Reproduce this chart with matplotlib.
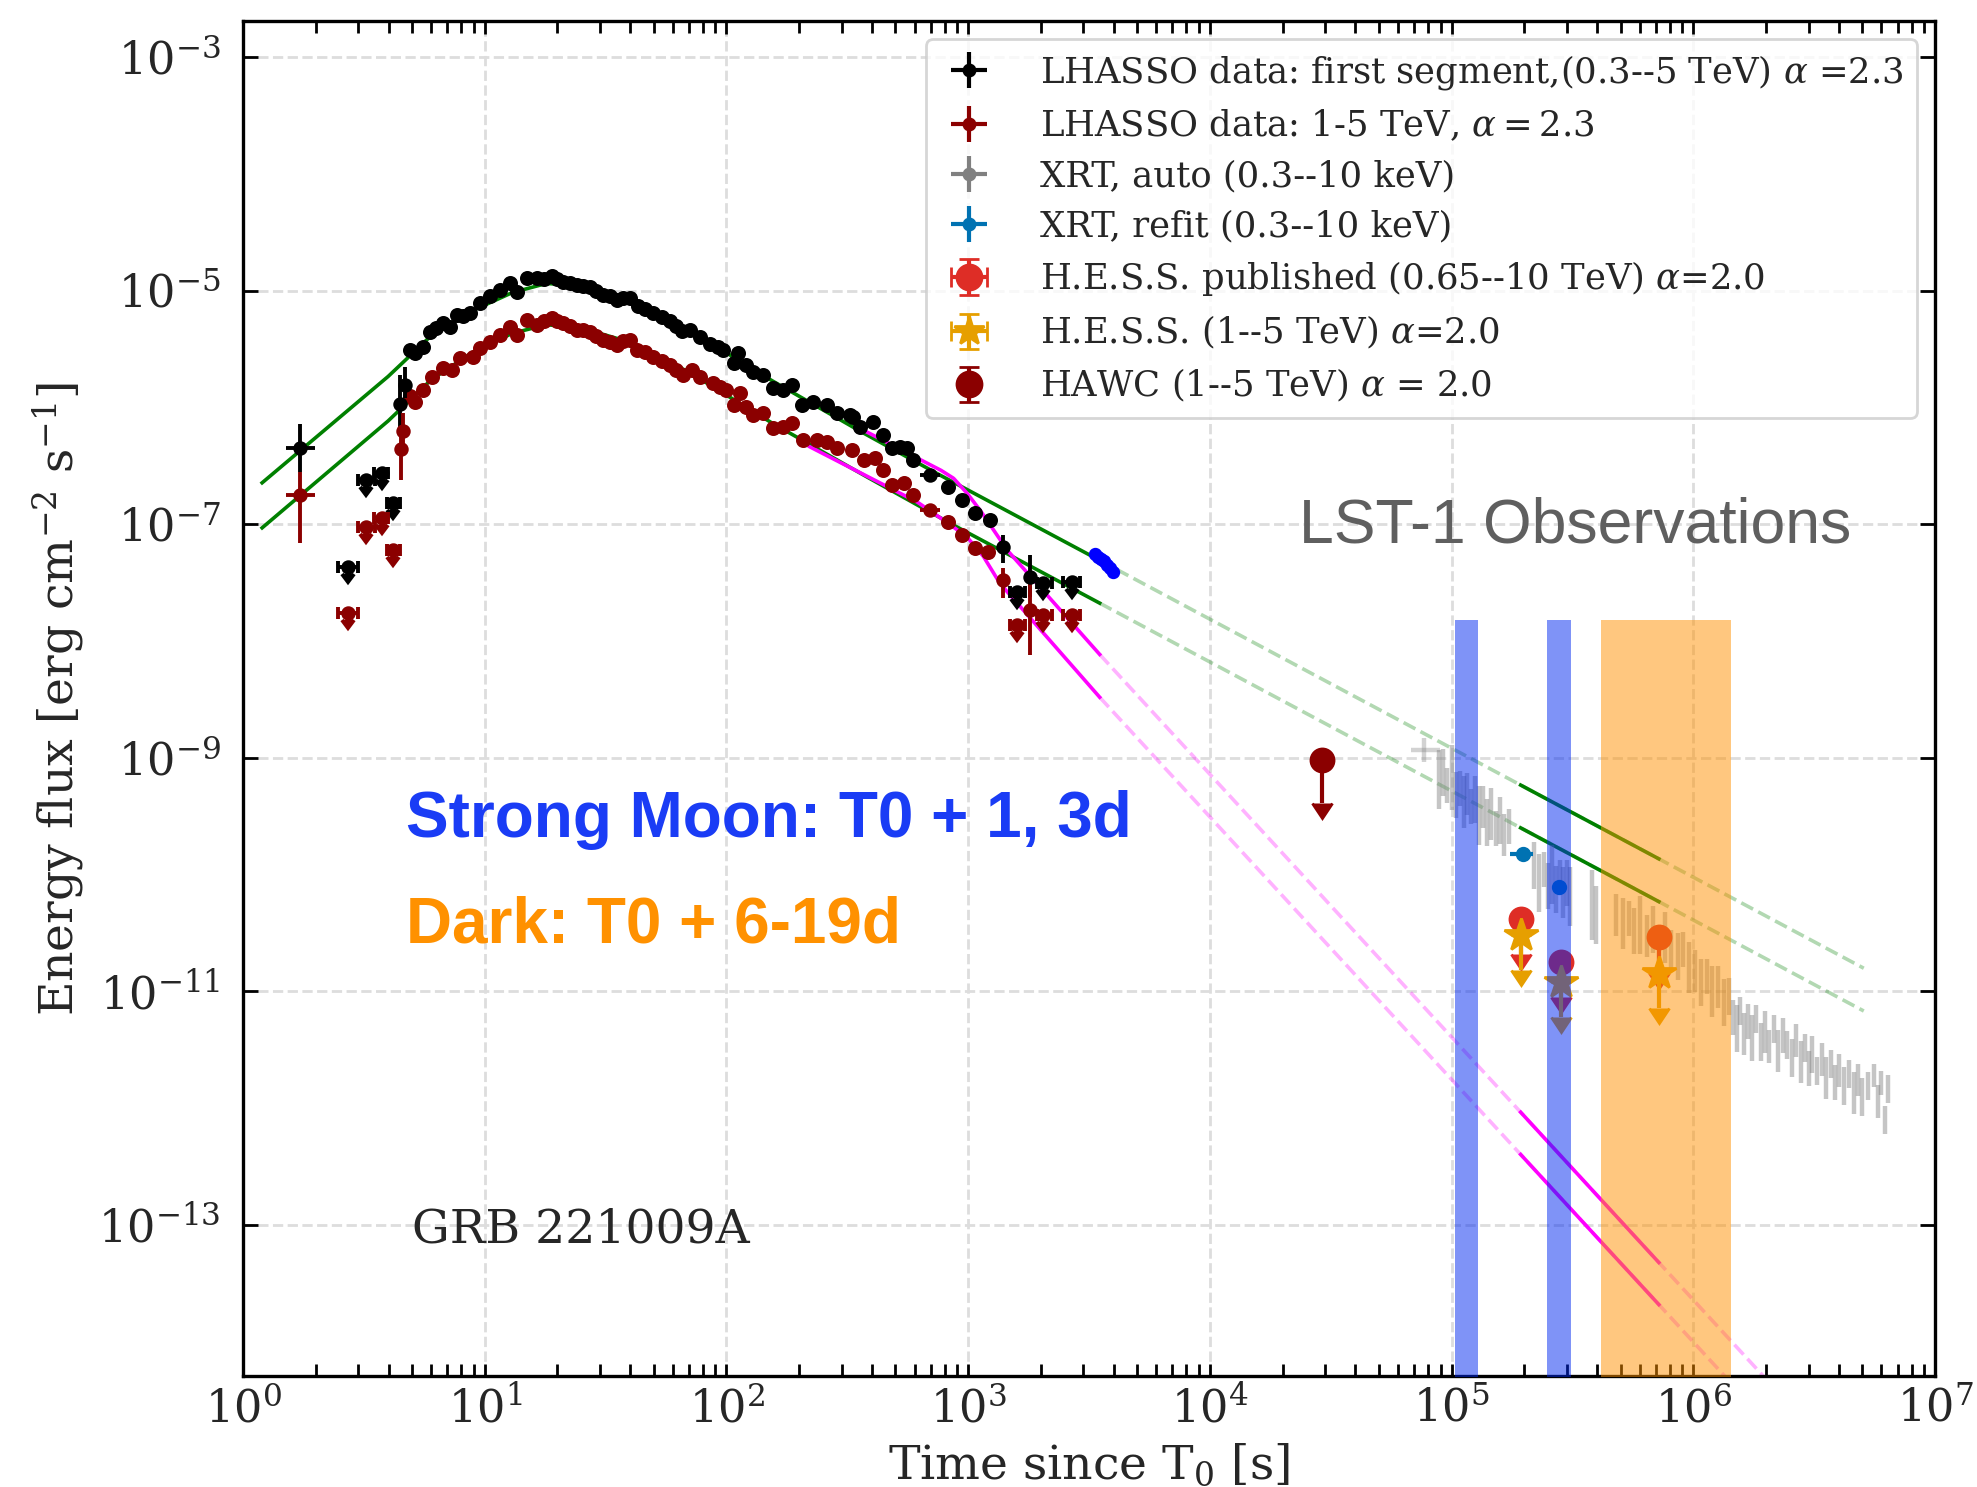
import numpy as np
import matplotlib
matplotlib.use("Agg")
import matplotlib.pyplot as plt
from matplotlib.ticker import LogLocator, FixedLocator, NullLocator, LogFormatterMathtext

plt.rcParams.update({
    "font.family": ["DejaVu Serif"],
    "mathtext.fontset": "dejavuserif",
    "text.color": "#262626",
    "axes.labelcolor": "#262626",
    "xtick.labelcolor": "#262626",
    "ytick.labelcolor": "#262626",
})

# ---------------- LHAASO light curve (dense part, markers only) ----------------
lhaaso_all_t = [4.91, 5.15, 5.57, 5.94, 6.3, 6.74, 7.2, 7.66, 8.1, 8.69, 9.57, 10.5,
                11.6, 12.7, 13.6, 14.9, 16.4, 17.6, 18.9, 20.0, 21.1, 22.5, 24.0, 25.5,
                27.3, 29.0, 31.0, 33.0, 35.2, 37.5, 39.9, 43.0, 46.0, 49.9, 54.0, 58.5,
                62.0, 65.4, 70.7, 77.8, 85.6, 92.0, 97.0, 107, 112, 120, 129, 142, 156,
                172, 186, 205, 229, 260, 286, 324, 335, 357, 404, 445, 483, 523, 557,
                594, 828, 940, 1067, 1230]
lhaaso_all_f = [3.1e-6, 2.9e-6, 3.31e-6, 4.45e-6, 4.8e-6, 5.25e-6, 4.9e-6, 6.2e-6, 6.1e-6,
                6.4e-6, 7.8e-6, 8.9e-6, 1.01e-5, 1.16e-5, 9.8e-6, 1.27e-5, 1.27e-5, 1.25e-5,
                1.32e-5, 1.25e-5, 1.19e-5, 1.15e-5, 1.12e-5, 1.1e-5, 1.08e-5, 1.0e-5, 9.2e-6,
                8.9e-6, 8.3e-6, 8.7e-6, 8.6e-6, 7.4e-6, 7.0e-6, 6.4e-6, 5.9e-6, 5.5e-6,
                5.0e-6, 4.5e-6, 4.6e-6, 4.03e-6, 3.5e-6, 3.3e-6, 3.1e-6, 2.4e-6, 2.9e-6,
                2.3e-6, 2.0e-6, 1.9e-6, 1.45e-6, 1.42e-6, 1.56e-6, 1.05e-6, 1.12e-6, 1.05e-6,
                8.9e-7, 8.6e-7, 8.3e-7, 6.8e-7, 7.55e-7, 5.8e-7, 4.47e-7, 4.6e-7, 4.47e-7,
                3.55e-7, 2.1e-7, 1.61e-7, 1.24e-7, 1.09e-7]

lhaaso_hi_t = [4.91, 5.15, 5.57, 6.03, 6.74, 7.3, 7.9, 8.97, 9.57, 10.5, 11.6, 12.7,
               13.6, 14.9, 16.4, 17.6, 18.9, 20.0, 21.1, 22.5, 24.0, 25.5, 27.3, 29.0,
               31.0, 33.0, 35.2, 37.5, 39.9, 42.6, 46.0, 49.9, 54.0, 58.5, 62.0, 66.4,
               71.8, 77.8, 88.3, 94.0, 100, 107, 114, 121, 129, 142, 156, 172, 186, 208,
               237, 260, 286, 330, 369, 412, 445, 483, 541, 594, 828, 940, 1067, 1213]
lhaaso_hi_f = [1.24e-6, 1.12e-6, 1.41e-6, 1.83e-6, 2.16e-6, 2.09e-6, 2.63e-6, 2.72e-6,
               3.2e-6, 3.65e-6, 4.17e-6, 4.9e-6, 4.17e-6, 5.6e-6, 5.07e-6, 5.5e-6, 5.8e-6,
               5.5e-6, 5.25e-6, 5.0e-6, 4.6e-6, 4.6e-6, 4.45e-6, 4.1e-6, 3.78e-6, 3.6e-6,
               3.42e-6, 3.7e-6, 3.78e-6, 3.1e-6, 3.0e-6, 2.72e-6, 2.5e-6, 2.3e-6, 2.1e-6,
               1.89e-6, 2.09e-6, 1.83e-6, 1.61e-6, 1.5e-6, 1.41e-6, 1.05e-6, 1.32e-6,
               1.0e-6, 8.6e-7, 8.9e-7, 6.6e-7, 6.8e-7, 7.3e-7, 5.26e-7, 5.26e-7, 5.1e-7,
               4.47e-7, 4.3e-7, 3.55e-7, 3.66e-7, 2.91e-7, 2.17e-7, 2.24e-7, 1.78e-7,
               1.05e-7, 8.1e-8, 6.2e-8, 5.8e-8]

# LHAASO bins with visible error bars
lhaaso_all_bin_t = [1.72, 4.46, 4.68, 696, 1399, 1803]
lhaaso_all_bin_f = [4.52e-7, 1.07e-6, 1.55e-6, 2.64e-7, 6.4e-8, 3.55e-8]
lhaaso_all_bin_flo = [2.82e-7, 6.5e-7, 1.2e-6, 2.4e-7, 4.66e-8, 2.4e-8]
lhaaso_all_bin_fhi = [7.2e-7, 1.9e-6, 2.2e-6, 2.9e-7, 8.1e-8, 5.45e-8]
lhaaso_all_bin_tlo = [1.51, 4.40, 4.62, 632, 1399, 1803]
lhaaso_all_bin_thi = [1.99, 4.52, 4.74, 765, 1399, 1803]

lhaaso_hi_bin_t = [1.72, 4.49, 4.61, 696, 1399, 1803]
lhaaso_hi_bin_f = [1.78e-7, 4.4e-7, 6.3e-7, 1.32e-7, 3.33e-8, 1.84e-8]
lhaaso_hi_bin_flo = [6.9e-8, 2.4e-7, 4.5e-7, 1.2e-7, 2.32e-8, 7.6e-9]
lhaaso_hi_bin_fhi = [2.82e-7, 6.4e-7, 9.0e-7, 1.45e-7, 4.19e-8, 3.33e-8]
lhaaso_hi_bin_tlo = [1.51, 4.43, 4.55, 632, 1399, 1803]
lhaaso_hi_bin_thi = [1.99, 4.55, 4.67, 765, 1399, 1803]

# LHAASO upper limits
ul_t = [2.73, 3.23, 3.75, 4.19, 1589, 2047, 2681]
ul_tlo = [2.48, 2.98, 3.48, 3.94, 1490, 1922, 2477]
ul_thi = [3.00, 3.52, 3.99, 4.46, 1718, 2218, 2904]
ul_all_f = [4.33e-8, 2.39e-7, 2.76e-7, 1.51e-7, 2.64e-8, 3.12e-8, 3.22e-8]
ul_hi_f = [1.73e-8, 9.5e-8, 1.12e-7, 6.0e-8, 1.37e-8, 1.67e-8, 1.67e-8]

# ---------------- Swift-XRT ----------------
xrt_early_t = [3350, 3450, 3550, 3650, 3750, 3870, 3990]
xrt_early_f = [5.6e-8, 5.2e-8, 5.0e-8, 4.8e-8, 4.5e-8, 4.2e-8, 3.9e-8]

xrt_auto_t = [7.65e4,
              8.9e4, 9.2e4, 9.6e4, 1.0e5, 1.04e5, 1.08e5, 1.12e5, 1.16e5, 1.2e5, 1.25e5,
              1.3e5, 1.35e5, 1.4e5, 1.46e5, 1.52e5, 1.58e5, 1.65e5, 1.72e5,
              2.2e5, 2.3e5, 2.4e5, 2.5e5, 2.6e5, 2.7e5, 2.8e5, 2.9e5, 3.0e5, 3.1e5,
              3.8e5, 3.95e5,
              4.8e5, 5.1e5, 5.4e5, 5.7e5, 6.0e5, 6.4e5, 6.8e5, 7.2e5, 7.6e5, 8.1e5,
              8.6e5, 9.1e5, 9.6e5, 1.02e6, 1.08e6, 1.14e6, 1.2e6, 1.27e6, 1.34e6, 1.41e6,
              1.46e6, 1.51e6, 1.56e6, 1.62e6, 1.68e6, 1.75e6, 1.82e6, 1.9e6, 1.98e6,
              2.06e6, 2.15e6, 2.25e6, 2.35e6, 2.45e6, 2.55e6, 2.66e6, 2.78e6, 2.9e6,
              3.0e6, 3.1e6, 3.25e6, 3.4e6, 3.55e6, 3.7e6, 3.85e6, 4.0e6, 4.2e6, 4.4e6,
              4.6e6, 4.8e6, 5.0e6, 5.3e6, 5.6e6, 5.8e6, 6.0e6, 6.2e6, 6.4e6]
xrt_auto_f = [1.17e-9,
              6.5e-10, 7.5e-10, 5.8e-10, 6.8e-10, 4.8e-10, 5.5e-10, 4.2e-10, 4.9e-10,
              3.8e-10, 4.4e-10, 3.2e-10, 3.8e-10, 2.8e-10, 3.3e-10, 2.5e-10, 2.9e-10,
              2.2e-10, 2.6e-10,
              1.2e-10, 8.5e-11, 1.1e-10, 8.0e-11, 1.0e-10, 7.5e-11, 9.5e-11, 7.0e-11,
              8.5e-11, 6.5e-11,
              5.5e-11, 4.5e-11,
              4.5e-11, 3.8e-11, 4.2e-11, 3.3e-11, 3.7e-11, 3.0e-11, 3.4e-11, 2.6e-11,
              2.9e-11, 2.2e-11, 2.0e-11, 2.3e-11, 1.6e-11, 1.5e-11, 1.2e-11, 1.35e-11,
              1.0e-11, 1.1e-11, 8.0e-12, 9.0e-12,
              6.0e-12, 4.8e-12, 6.8e-12, 4.3e-12, 5.5e-12, 4.0e-12, 5.8e-12, 3.7e-12,
              4.5e-12, 3.4e-12, 4.8e-12, 3.1e-12, 4.2e-12, 3.5e-12, 2.7e-12, 3.8e-12,
              2.5e-12, 3.3e-12, 2.2e-12, 2.9e-12, 2.1e-12, 2.6e-12, 1.8e-12, 2.4e-12,
              1.65e-12, 2.1e-12, 1.55e-12, 1.95e-12, 1.35e-12, 1.75e-12, 1.25e-12,
              1.55e-12, 1.9e-12, 1.15e-12, 1.65e-12, 8.0e-13, 1.45e-12]
xrt_auto_dex = [0.10,
                0.25, 0.20, 0.15, 0.28, 0.20, 0.15, 0.22, 0.18, 0.15, 0.20, 0.25, 0.18,
                0.20, 0.22, 0.15, 0.20, 0.18, 0.15,
                0.20, 0.25, 0.15, 0.20, 0.25, 0.20, 0.15, 0.22, 0.20, 0.25,
                0.30, 0.25,
                0.18, 0.22, 0.15, 0.20, 0.25, 0.18, 0.20, 0.15, 0.22, 0.18, 0.20, 0.15,
                0.22, 0.18, 0.20, 0.15, 0.22, 0.18, 0.20, 0.16,
                0.15, 0.20, 0.12, 0.18, 0.15, 0.20, 0.12, 0.16, 0.18, 0.14, 0.12, 0.18,
                0.15, 0.12, 0.16, 0.14, 0.18, 0.12, 0.15, 0.16, 0.12, 0.14, 0.18, 0.12,
                0.15, 0.14, 0.16, 0.12, 0.18, 0.14, 0.16, 0.12, 0.10, 0.14, 0.10, 0.12,
                0.12]
xrt_auto_first_tlo, xrt_auto_first_thi = 6.8e4, 8.96e4

xrt_refit_t = [1.97e5, 2.79e5]
xrt_refit_f = [1.5e-10, 7.9e-11]
xrt_refit_tlo = [1.75e5, 2.72e5]
xrt_refit_thi = [2.17e5, 2.86e5]

# ---------------- IACT / HAWC upper limits ----------------
hess_pub_t = [1.93e5, 2.83e5, 7.18e5]
hess_pub_f = [4.2e-11, 1.8e-11, 2.9e-11]
hess_15_t = [1.93e5, 2.83e5, 7.18e5]
hess_15_f = [3.04e-11, 1.21e-11, 1.43e-11]
hawc_t = [2.9e4]
hawc_f = [9.57e-10]

# ---------------- afterglow models (knots of log-log curves) ----------------
pl_all_t = [1.2, 4.0, 6.0, 9.0, 13, 18, 25, 40, 70, 150, 350, 700, 5.07e6]
pl_all_f = [2.26e-7, 1.85e-6, 4.1e-6, 6.8e-6, 9.6e-6, 1.15e-5, 1.1e-5, 8.0e-6, 4.6e-6,
            1.75e-6, 6.4e-7, 2.9e-7, 1.58e-11]
pl_hi_t = [1.2, 4.0, 6.0, 9.0, 13, 18, 25, 40, 70, 150, 350, 840, 5.07e6]
pl_hi_f = [9.3e-8, 7.7e-7, 1.72e-6, 3.0e-6, 4.3e-6, 5.1e-6, 4.8e-6, 3.6e-6, 2.0e-6,
           7.6e-7, 2.8e-7, 1.02e-7, 6.8e-12]
jet_all_t = [362, 770, 870, 990, 1120, 1450, 3515, 2.0e6]
jet_all_f = [6.5e-7, 2.9e-7, 2.47e-7, 1.84e-7, 1.32e-7, 6.0e-8, 7.6e-9, 4.8e-15]
jet_hi_t = [221, 612, 789, 987, 1156, 1355, 3500, 2.0e6]
jet_hi_f = [4.6e-7, 1.56e-7, 1.09e-7, 7.8e-8, 5.3e-8, 3.1e-8, 3.3e-9, 2.1e-15]

fit_end = 3500
lst_window = (1.93e5, 7.2e5)

# LST-1 observation windows
moon_windows = [(1.03e5, 1.29e5), (2.49e5, 3.13e5)]
dark_window = (4.14e5, 1.43e6)
window_top = 1.5e-8


def loglog(tk, fk, t):
    return 10 ** np.interp(np.log10(t), np.log10(tk), np.log10(fk))


fig = plt.figure(figsize=(1977 / 200, 1487 / 200), dpi=200)
ax = fig.add_axes([0.1229, 0.0746, 0.8559, 0.9113])
ax.set_xscale("log")
ax.set_yscale("log")

# model curves
for tk, fk, tstart, tend in [(pl_all_t, pl_all_f, 1.2, 5.07e6), (pl_hi_t, pl_hi_f, 1.2, 5.07e6),
                             (jet_all_t, jet_all_f, 362, 2.0e6), (jet_hi_t, jet_hi_f, 221, 2.0e6)]:
    col = "green" if tk[0] < 10 else "magenta"
    t1 = np.geomspace(tstart, fit_end, 300)
    t2 = np.geomspace(fit_end, tend, 300)
    t3 = np.geomspace(*lst_window, 100)
    ax.plot(t1, loglog(tk, fk, t1), color=col, lw=1.3, zorder=2)
    ax.plot(t2, loglog(tk, fk, t2), color=col, lw=1.3, ls="--", alpha=0.3, zorder=2)
    ax.plot(t3, loglog(tk, fk, t3), color=col, lw=1.3, zorder=2)

# XRT
xf = np.array(xrt_auto_f)
xd = np.array(xrt_auto_dex)
ax.errorbar(xrt_auto_t[1:], xf[1:], yerr=[xf[1:] * (1 - 10 ** -xd[1:]), xf[1:] * (10 ** xd[1:] - 1)],
            fmt="none", ecolor="gray", elinewidth=1.6, alpha=0.45, zorder=2.5)
ax.errorbar(xrt_auto_t[:1], xf[:1],
            xerr=[[xrt_auto_t[0] - xrt_auto_first_tlo], [xrt_auto_first_thi - xrt_auto_t[0]]],
            yerr=[xf[:1] * (1 - 10 ** -xd[:1]), xf[:1] * (10 ** xd[:1] - 1)],
            fmt="none", ecolor="gray", elinewidth=1.6, alpha=0.35, zorder=2.5)
ax.plot(xrt_early_t, xrt_early_f, "o", color="blue", ms=3.8, zorder=3)
rt = np.array(xrt_refit_t)
ax.errorbar(rt, xrt_refit_f, xerr=[rt - np.array(xrt_refit_tlo), np.array(xrt_refit_thi) - rt],
            yerr=np.array(xrt_refit_f) * 0.08, fmt="o", color="#0072B2", ms=4.5,
            elinewidth=1.5, zorder=3)

# LHAASO
for t, f, col in [(lhaaso_all_t, lhaaso_all_f, "black"), (lhaaso_hi_t, lhaaso_hi_f, "darkred")]:
    ax.plot(t, f, "o", color=col, ms=4.4, zorder=3)
for t, f, flo, fhi, tlo, thi, col in [
        (lhaaso_all_bin_t, lhaaso_all_bin_f, lhaaso_all_bin_flo, lhaaso_all_bin_fhi,
         lhaaso_all_bin_tlo, lhaaso_all_bin_thi, "black"),
        (lhaaso_hi_bin_t, lhaaso_hi_bin_f, lhaaso_hi_bin_flo, lhaaso_hi_bin_fhi,
         lhaaso_hi_bin_tlo, lhaaso_hi_bin_thi, "darkred")]:
    t, f = np.array(t), np.array(f)
    ax.errorbar(t, f, xerr=[t - np.array(tlo), np.array(thi) - t],
                yerr=[f - np.array(flo), np.array(fhi) - f],
                fmt="o", color=col, ms=4.2, elinewidth=1.4, zorder=3)
ut = np.array(ul_t)
for f, col in [(ul_all_f, "black"), (ul_hi_f, "darkred")]:
    f = np.array(f)
    ax.errorbar(ut, f, xerr=[ut - np.array(ul_tlo), np.array(ul_thi) - ut], yerr=0.13 * f,
                uplims=True, fmt="o", color=col, ms=4.2, elinewidth=1.4, capsize=2.0,
                capthick=1.4, zorder=3)

# HESS and HAWC upper limits
ax.errorbar(hess_pub_t, hess_pub_f, yerr=0.5 * np.array(hess_pub_f), uplims=True, fmt="o",
            color="#de2d26", ms=8.3, elinewidth=1.5, capsize=3.5, zorder=3)
ax.errorbar(hess_15_t, hess_15_f, yerr=0.5 * np.array(hess_15_f), uplims=True, fmt="*",
            color="#E69F00", ms=12.5, elinewidth=1.5, capsize=3.5, zorder=3.2)
ax.errorbar(hawc_t, hawc_f, yerr=0.57 * np.array(hawc_f), uplims=True, fmt="o",
            color="darkred", ms=8.3, elinewidth=1.5, capsize=3.5, zorder=3)

# observation windows
for lo, hi in moon_windows:
    ax.fill_between([lo, hi], 1e-20, window_top, color="#0028F0", alpha=0.5, lw=0, zorder=4)
ax.fill_between(list(dark_window), 1e-20, window_top, color="#FF9100", alpha=0.5, lw=0, zorder=4)

# annotations
ax.text(0.624, 0.6155, "LST-1 Observations", transform=ax.transAxes, fontsize=22.5,
        family="Liberation Sans", color="#5f5f5f", ha="left", va="baseline", zorder=6)
ax.text(0.0963, 0.3978, "Strong Moon: T0 + 1, 3d", transform=ax.transAxes, fontsize=23,
        family="Liberation Sans", weight="bold", color="#1a3cf5", ha="left", va="baseline",
        zorder=6)
ax.text(0.0963, 0.3196, "Dark: T0 + 6-19d", transform=ax.transAxes, fontsize=23,
        family="Liberation Sans", weight="bold", color="#ff9100", ha="left", va="baseline",
        zorder=6)
ax.text(0.0999, 0.0989, "GRB 221009A", transform=ax.transAxes, fontsize=17,
        color="#262626", ha="left", va="baseline", zorder=6)

# legend proxies
nan = [np.nan]
h1 = ax.errorbar(nan, nan, xerr=1, yerr=1, fmt="o", color="black", ms=4, elinewidth=1.5)
h2 = ax.errorbar(nan, nan, xerr=1, yerr=1, fmt="o", color="darkred", ms=4, elinewidth=1.5)
h3 = ax.errorbar(nan, nan, xerr=1, yerr=1, fmt="o", color="gray", ms=4, elinewidth=1.5)
h4 = ax.errorbar(nan, nan, xerr=1, yerr=1, fmt="o", color="#0072B2", ms=4, elinewidth=1.5)
h5 = ax.errorbar(nan, nan, xerr=1, yerr=1, fmt="o", color="#de2d26", ms=9, elinewidth=1.5,
                 capsize=3.5)
h6 = ax.errorbar(nan, nan, xerr=1, yerr=1, fmt="*", color="#E69F00", ms=11, elinewidth=1.5,
                 capsize=3.5)
h7 = ax.errorbar(nan, nan, yerr=1, fmt="o", color="darkred", ms=9, elinewidth=1.5, capsize=3.5)
labels = [r"LHASSO data: first segment,(0.3--5 TeV) $\alpha$ =2.3",
          r"LHASSO data: 1-5 TeV, $\alpha = 2.3$",
          "XRT, auto (0.3--10 keV)",
          "XRT, refit (0.3--10 keV)",
          r"H.E.S.S. published (0.65--10 TeV) $\alpha$=2.0",
          r"H.E.S.S. (1--5 TeV) $\alpha$=2.0",
          r"HAWC (1--5 TeV) $\alpha$ = 2.0"]
leg = ax.legend([h1, h2, h3, h4, h5, h6, h7], labels, loc="upper right", fontsize=12.75,
                handlelength=1.6, labelspacing=0.45, borderpad=0.4, handletextpad=1.2,
                edgecolor="#cccccc", fancybox=True)
leg.set_zorder(10)

# axes styling
ax.set_xlim(1, 1e7)
ax.set_ylim(5.1e-15, 2.03e-3)
ax.xaxis.set_major_locator(LogLocator(base=10, numticks=20))
ax.xaxis.set_minor_locator(LogLocator(base=10, subs=np.arange(2, 10), numticks=20))
ax.yaxis.set_major_locator(FixedLocator([1e-13, 1e-11, 1e-9, 1e-7, 1e-5, 1e-3]))
ax.yaxis.set_major_formatter(LogFormatterMathtext())
ax.yaxis.set_minor_locator(NullLocator())
ax.tick_params(which="both", direction="in", top=True, right=True, width=1.0)
ax.tick_params(axis="x", which="major", length=4.5, labelsize=16, pad=4)
ax.tick_params(axis="x", which="minor", length=4.2)
ax.tick_params(axis="y", which="major", length=5.5, labelsize=16, pad=8)
for sp in ax.spines.values():
    sp.set_linewidth(1.2)
ax.grid(True, which="major", ls="--", color="#dddddd", lw=1.0, zorder=0)
ax.set_axisbelow(True)
ax.set_xlabel(r"Time since T$_0$ [s]", fontsize=17, labelpad=4)
ax.set_ylabel(r"Energy flux [erg cm$^{-2}$ s$^{-1}$]", fontsize=17, labelpad=4)

fig.savefig("out.png", dpi=200)
